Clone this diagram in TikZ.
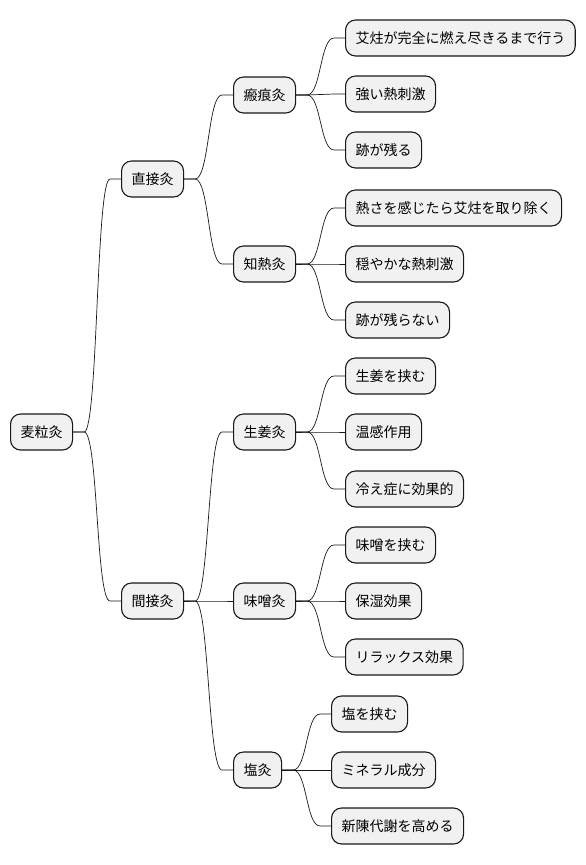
\documentclass[tikz,border=0pt]{standalone}
\usepackage{fontspec}
\newfontfamily\cjk{Noto Sans CJK JP}
\usetikzlibrary{calc}
\definecolor{boxfill}{HTML}{F1F1F1}
\definecolor{boxline}{HTML}{181818}
\tikzset{
  mmnode/.style={draw=boxline, fill=boxfill, line width=1.1pt, rounded corners=10pt,
    minimum height=36pt, inner xsep=10pt, inner ysep=0pt, anchor=west,
    font=\cjk\fontsize{14}{16}\selectfont},
  mmline/.style={draw=boxline, line width=0.7pt}
}
\newcommand\mmconn[2]{\draw[mmline] (#1.east) -- ++(11,0) .. controls ($(#1.east)+(25,0)$) and ($(#2.west)+(-25,0)$) .. ($(#2.west)+(-11,0)$) -- (#2.west);}
\begin{document}
\begin{tikzpicture}[x=1pt,y=1pt]
\useasboundingbox (0,0) rectangle (586,-865);
% root
\node[mmnode] (r) at (10,-432) {麦粒灸};
% level 1
\node[mmnode] (d) at (121,-179) {直接灸};
\node[mmnode] (k) at (121,-601) {間接灸};
% level 2
\node[mmnode] (d1) at (233,-95) {瘢痕灸};
\node[mmnode] (d2) at (233,-264) {知熱灸};
\node[mmnode] (k1) at (233,-432) {生姜灸};
\node[mmnode] (k2) at (233,-601) {味噌灸};
\node[mmnode] (k3) at (233,-770) {塩灸};
% level 3
\node[mmnode] (d1a) at (345,-38) {艾炷が完全に燃え尽きるまで行う};
\node[mmnode] (d1b) at (345,-94) {強い熱刺激};
\node[mmnode] (d1c) at (345,-150) {跡が残る};
\node[mmnode] (d2a) at (345,-208) {熱さを感じたら艾炷を取り除く};
\node[mmnode] (d2b) at (345,-264) {穏やかな熱刺激};
\node[mmnode] (d2c) at (345,-320) {跡が残らない};
\node[mmnode] (k1a) at (345,-376) {生姜を挟む};
\node[mmnode] (k1b) at (345,-432) {温感作用};
\node[mmnode] (k1c) at (345,-489) {冷え症に効果的};
\node[mmnode] (k2a) at (345,-545) {味噌を挟む};
\node[mmnode] (k2b) at (345,-601) {保湿効果};
\node[mmnode] (k2c) at (345,-657) {リラックス効果};
\node[mmnode] (k3a) at (331,-714) {塩を挟む};
\node[mmnode] (k3b) at (331,-770) {ミネラル成分};
\node[mmnode] (k3c) at (331,-826) {新陳代謝を高める};
% connectors
\mmconn{r}{d}
\mmconn{r}{k}
\mmconn{d}{d1}
\mmconn{d}{d2}
\mmconn{k}{k1}
\mmconn{k}{k2}
\mmconn{k}{k3}
\mmconn{d1}{d1a}
\mmconn{d1}{d1b}
\mmconn{d1}{d1c}
\mmconn{d2}{d2a}
\mmconn{d2}{d2b}
\mmconn{d2}{d2c}
\mmconn{k1}{k1a}
\mmconn{k1}{k1b}
\mmconn{k1}{k1c}
\mmconn{k2}{k2a}
\mmconn{k2}{k2b}
\mmconn{k2}{k2c}
\mmconn{k3}{k3a}
\mmconn{k3}{k3b}
\mmconn{k3}{k3c}
\end{tikzpicture}
\end{document}
